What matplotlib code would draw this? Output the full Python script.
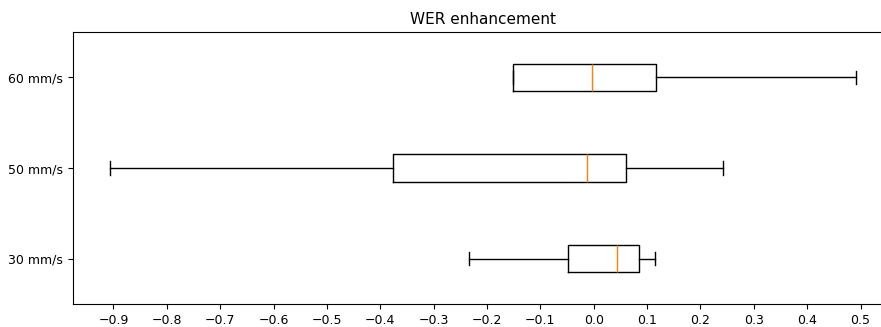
import matplotlib
matplotlib.use("Agg")
import matplotlib.pyplot as plt

labels = ["30 mm/s", "50 mm/s", "60 mm/s"]
whislo = [-0.234, -0.906, -0.152]
q1 = [-0.049, -0.376, -0.152]
med = [0.044, -0.013, -0.004]
q3 = [0.084, 0.060, 0.117]
whishi = [0.114, 0.243, 0.491]

stats = []
for i in range(len(labels)):
    stats.append(dict(label=labels[i], whislo=whislo[i], q1=q1[i], med=med[i],
                      q3=q3[i], whishi=whishi[i], fliers=[]))

# the source image looks downscaled a bit, so text is a little smaller than default
plt.rcParams['font.size'] = 9
plt.rcParams['axes.titlesize'] = 11

fig = plt.figure(figsize=(8.81, 3.27), dpi=100)
# original figure was cropped on the right, so the axes run past the edge
ax = fig.add_axes([73/881, 1-304/327, (893-73)/881, (304-32)/327])
ax.bxp(stats, vert=False, showfliers=False)
ax.set_title("WER enhancement")
ax.set_xticks([x/10 for x in range(-9, 6)])

fig.savefig("out.png", dpi=100)
